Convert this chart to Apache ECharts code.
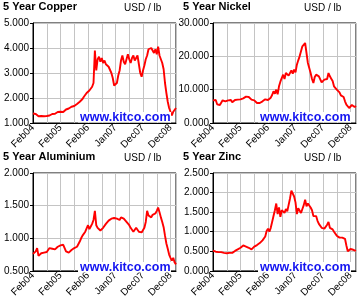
<!DOCTYPE html>
<html><head><meta charset="utf-8">
<script src="https://cdn.jsdelivr.net/npm/echarts@6/dist/echarts.min.js"></script>
<style>html,body{margin:0;padding:0;background:#fff}#c{width:360px;height:300px}</style>
</head><body><div id="c"></div>
<script>
const tickLabels = ['Feb04','Feb05','Feb06','Jan07','Dec07','Dec08'];
const titles = ['5 Year Copper','5 Year Nickel','5 Year Aluminium','5 Year Zinc'];
const unitLabel = 'USD / lb';
const watermark = 'www.kitco.com';

const copper = [1.38,1.40,1.36,1.33,1.27,1.24,1.28,1.25,1.27,1.30,
1.28,1.31,1.30,1.33,1.36,1.38,1.37,1.40,1.44,1.42,
1.45,1.47,1.44,1.50,1.54,1.52,1.58,1.61,1.65,1.63,
1.68,1.72,1.76,1.80,1.85,1.90,1.96,2.05,2.12,2.20,
2.22,2.30,2.28,2.45,2.60,3.90,3.10,3.55,3.65,3.45,
3.60,3.40,3.50,3.35,3.40,3.25,3.20,3.00,2.80,2.50,
2.45,2.60,2.90,3.10,3.50,3.70,3.45,3.35,3.55,3.75,
3.55,3.40,3.60,3.70,3.50,3.60,3.70,3.35,3.00,2.85,
3.10,3.30,3.55,3.70,3.95,3.90,4.00,3.90,3.80,3.95,
3.75,4.05,3.70,3.55,3.40,3.15,2.60,2.20,1.85,1.60,
1.45,1.30,1.45,1.50,1.60];

const nickel = [6.8,6.5,6.9,5.6,5.0,5.4,6.0,6.8,7.2,6.5,
6.3,6.8,7.3,6.9,6.2,6.5,6.9,6.6,7.0,6.8,
7.1,7.0,7.4,7.6,7.9,7.7,7.8,7.4,7.0,6.9,
6.8,6.5,6.0,5.5,6.0,6.4,6.5,6.9,7.1,7.0,
6.9,7.0,7.6,8.4,9.5,8.8,10.0,8.6,11.0,12.4,
13.5,14.5,13.2,15.0,15.6,14.2,14.6,15.8,14.8,16.0,
15.2,17.5,18.8,20.0,21.5,23.0,23.6,24.0,21.0,18.0,
16.5,15.0,13.2,12.0,13.8,14.5,15.0,14.0,13.6,12.2,
12.8,13.0,12.4,13.2,15.0,14.0,13.3,12.6,11.0,10.4,
10.0,9.8,9.2,8.3,8.5,7.8,6.5,5.5,4.9,4.5,
4.6,5.4,5.0,4.8,5.1];

const aluminium = [0.76,0.78,0.80,0.85,0.73,0.75,0.77,0.76,0.78,0.77,
0.79,0.81,0.85,0.83,0.84,0.85,0.83,0.86,0.87,0.86,
0.89,0.92,0.90,0.85,0.80,0.79,0.78,0.80,0.82,0.84,
0.85,0.83,0.87,0.90,0.95,1.00,1.04,1.06,1.10,1.08,
1.20,1.14,1.18,1.22,1.28,1.42,1.20,1.16,1.15,1.12,
1.14,1.16,1.19,1.22,1.25,1.27,1.28,1.30,1.29,1.31,
1.32,1.30,1.30,1.28,1.32,1.29,1.30,1.27,1.25,1.22,
1.20,1.16,1.14,1.10,1.12,1.16,1.13,1.10,1.12,1.09,
1.12,1.16,1.25,1.42,1.35,1.38,1.32,1.36,1.34,1.38,
1.42,1.47,1.40,1.32,1.25,1.17,1.04,0.92,0.84,0.75,
0.70,0.66,0.70,0.63,0.60];

const zinc = [0.52,0.51,0.49,0.50,0.48,0.47,0.48,0.47,0.46,0.45,
0.45,0.44,0.46,0.47,0.46,0.49,0.51,0.53,0.55,0.57,
0.59,0.62,0.65,0.64,0.62,0.60,0.59,0.57,0.55,0.58,
0.62,0.64,0.66,0.68,0.71,0.74,0.78,0.83,0.88,1.02,
1.08,1.00,1.10,1.25,1.40,1.55,1.72,1.45,1.62,1.38,
1.55,1.60,1.48,1.58,1.52,1.55,1.85,2.05,2.02,1.90,
1.75,1.45,1.60,1.55,1.48,1.58,1.68,1.82,1.65,1.72,
1.74,1.62,1.55,1.40,1.45,1.40,1.28,1.20,1.15,1.10,
1.12,1.08,1.10,1.18,1.25,1.10,1.08,1.06,1.00,0.95,
0.90,0.87,0.85,0.82,0.85,0.83,0.82,0.65,0.50,0.52,
0.56,0.52,0.54,0.50,0.51];

const seriesData = [copper, nickel, aluminium, zinc];
const yMin = [1, 0, 0.5, 0];
const yMax = [5, 30, 2, 2.5];
const yStep = [1, 10, 0.5, 0.5];

const N = copper.length;
const cats = Array.from({length: N}, (_, i) => (i % 20 === 0 ? tickLabels[i / 20] : ''));

const FONT = '"Liberation Sans", Arial, sans-serif';
const panelX = [0, 180, 0, 180];
const panelY = [0, 0, 150, 150];

const grids = [], xAxes = [], yAxes = [], series = [], graphics = [];
for (let k = 0; k < 4; k++) {
  const ox = panelX[k], oy = panelY[k];
  grids.push({left: ox + 33, top: oy + 23, width: 143, height: 100, show: true,
    borderColor: '#000', borderWidth: 1, backgroundColor: '#fff'});
  xAxes.push({type: 'category', gridIndex: k, data: cats, boundaryGap: false,
    axisLine: {lineStyle: {color: '#000', width: 1}},
    axisTick: {show: false},
    axisLabel: {interval: 0, rotate: 45, fontSize: 10, color: '#000', margin: 3, fontFamily: FONT},
    splitLine: {show: true, interval: 9, lineStyle: {color: '#c4c4c4', width: 1}}});
  yAxes.push({type: 'value', gridIndex: k, min: yMin[k], max: yMax[k], interval: yStep[k],
    axisLine: {show: true, lineStyle: {color: '#000', width: 1}},
    axisTick: {show: true, length: 3, lineStyle: {color: '#000'}},
    axisLabel: {fontSize: 10, color: '#000', margin: 4, fontFamily: FONT,
      formatter: v => v.toFixed(3)},
    splitLine: {show: true, lineStyle: {color: '#c4c4c4', width: 1}}});
  series.push({type: 'line', xAxisIndex: k, yAxisIndex: k, data: seriesData[k],
    showSymbol: false, silent: true, animation: false,
    lineStyle: {color: '#ff0000', width: 1.9}});
  graphics.push({type: 'text', left: ox + 3, top: oy + 1, z: 10,
    style: {text: titles[k], font: 'bold 11px ' + FONT, fill: '#000'}});
  graphics.push({type: 'text', left: ox + 124, top: oy + 3, z: 10,
    style: {text: unitLabel, font: '10px ' + FONT, fill: '#000'}});
  graphics.push({type: 'rect', left: ox + 78, top: oy + 112, z: 10,
    shape: {width: 93, height: 10.5}, style: {fill: '#fff'}});
  graphics.push({type: 'text', left: ox + 80, top: oy + 111, z: 11,
    style: {text: watermark, font: 'bold 12.5px ' + FONT, fill: '#1414f0'}});
}

const chart = echarts.init(document.getElementById('c'), null, {renderer: 'canvas'});
chart.setOption({animation: false, grid: grids, xAxis: xAxes, yAxis: yAxes, series: series, graphic: graphics});
</script></body></html>
